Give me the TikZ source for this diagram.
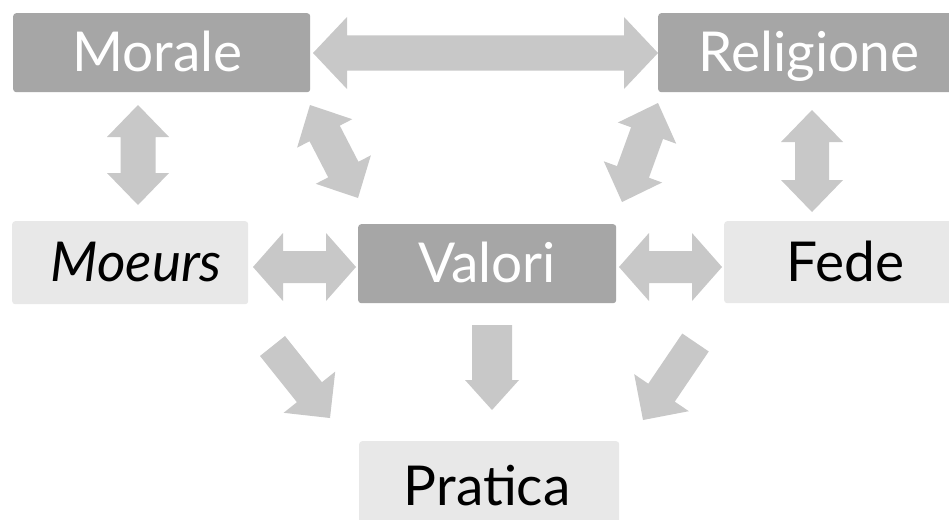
\documentclass[tikz,border=0pt]{standalone}
\usepackage{fontspec}
\setmainfont{Lato}
\usetikzlibrary{calc}
\definecolor{darkbox}{HTML}{A6A6A6}
\definecolor{lightbox}{HTML}{E8E8E8}
\definecolor{arrowfill}{HTML}{C8C8C8}
\tikzset{
  box/.style={rectangle, rounded corners=3pt, inner sep=0pt, anchor=north west,
    font=\fontsize{55}{60}\selectfont, text height=38pt, text depth=0pt},
  darkb/.style={box, fill=darkbox, text=white},
  lightb/.style={box, fill=lightbox, text=black},
}
\newcommand\dblarr[5]{%
  \fill[arrowfill] (#1) -- ($(#1)!#5!(#2)!#3!90:(#2)$) -- ($(#1)!#5!(#2)!#4!90:(#2)$)
   -- ($(#2)!#5!(#1)!#4!-90:(#1)$) -- ($(#2)!#5!(#1)!#3!-90:(#1)$) -- (#2)
   -- ($(#2)!#5!(#1)!#3!90:(#1)$) -- ($(#2)!#5!(#1)!#4!90:(#1)$)
   -- ($(#1)!#5!(#2)!#4!-90:(#2)$) -- ($(#1)!#5!(#2)!#3!-90:(#2)$) -- cycle;}
\newcommand\sglarr[5]{%
  \fill[arrowfill] ($(#1)!#4!90:(#2)$) -- ($(#2)!#5!(#1)!#4!-90:(#1)$)
   -- ($(#2)!#5!(#1)!#3!-90:(#1)$) -- (#2)
   -- ($(#2)!#5!(#1)!#3!90:(#1)$) -- ($(#2)!#5!(#1)!#4!90:(#1)$)
   -- ($(#1)!#4!-90:(#2)$) -- cycle;}
\begin{document}
\begin{tikzpicture}[x=1pt,y=-1pt]
\clip (0,0) rectangle (949,519);
\fill[white] (0,0) rectangle (949,519);
% boxes
\node[darkb, minimum width=297pt, minimum height=79pt] (morale) at (13,13) {\hspace*{-8pt}Morale};
\node[darkb, minimum width=300pt, minimum height=79pt] (religione) at (658,13) {\hspace*{2pt}Religione};
\node[lightb, minimum width=236pt, minimum height=83pt] (moeurs) at (12,221) {\hspace*{12pt}\itshape Moeurs};
\node[darkb, minimum width=258pt, minimum height=79pt] (valori) at (358,224) {Valori};
\node[lightb, minimum width=235pt, minimum height=82pt] (fede) at (724,221) {\hspace*{7pt}Fede};
\node[lightb, minimum width=260pt, minimum height=90pt] (pratica) at (359,441) {\hspace*{-4pt}Pratica};
% arrow end points
\coordinate (t1) at (313,53);   \coordinate (t2) at (658,53);
\coordinate (l1) at (138,105);  \coordinate (l2) at (138,205);
\coordinate (r1) at (812,110);  \coordinate (r2) at (812,212);
\coordinate (d1) at (310,105);  \coordinate (d2) at (358,198);
\coordinate (e1) at (658,103);  \coordinate (e2) at (622,202);
\coordinate (m1) at (253,267);  \coordinate (m2) at (356,267);
\coordinate (f1) at (619,267);  \coordinate (f2) at (722,267);
\coordinate (v1) at (492,325);  \coordinate (v2) at (492,410);
\coordinate (p1) at (272.5,346); \coordinate (p2) at (330,418);
\coordinate (q1) at (695.5,342.5); \coordinate (q2) at (643,420);
% arrows
\dblarr{t1}{t2}{36pt}{17.5pt}{34pt}
\dblarr{l1}{l2}{31pt}{17.5pt}{32pt}
\dblarr{r1}{r2}{31pt}{17pt}{32pt}
\dblarr{d1}{d2}{31pt}{17pt}{32pt}
\dblarr{e1}{e2}{31pt}{17pt}{32pt}
\dblarr{m1}{m2}{34pt}{16pt}{30pt}
\dblarr{f1}{f2}{34pt}{16pt}{30pt}
\sglarr{v1}{v2}{27pt}{20pt}{30pt}
\sglarr{p1}{p2}{33pt}{16pt}{33pt}
\sglarr{q1}{q2}{33pt}{16pt}{33pt}
\end{tikzpicture}
\end{document}
